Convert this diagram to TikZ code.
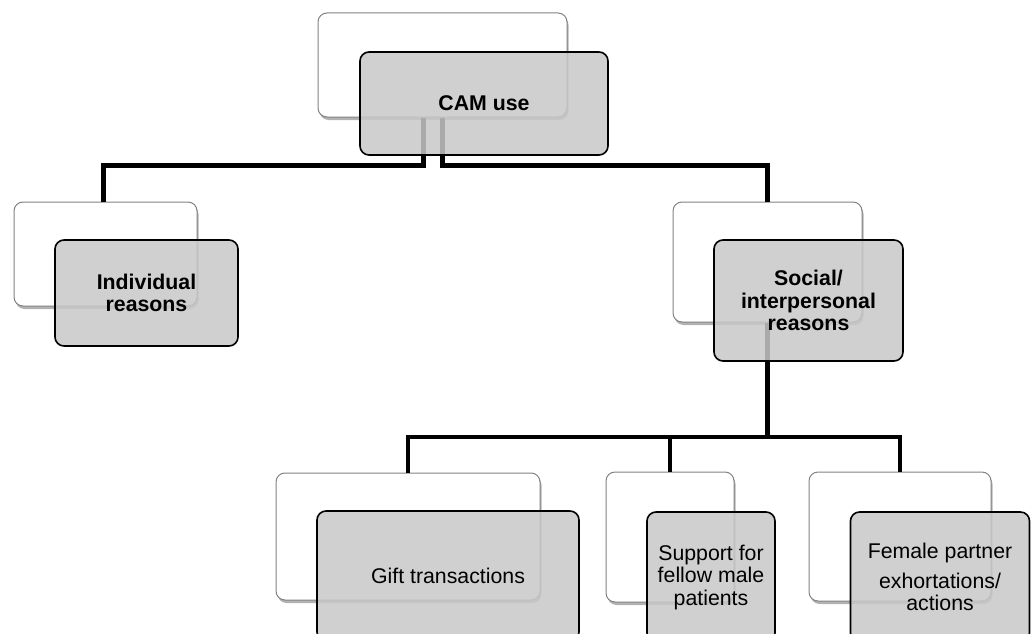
\documentclass[tikz,border=0pt]{standalone}
\usepackage{fontspec}
\setmainfont{Liberation Sans}
\usetikzlibrary{shadows}
\definecolor{frontfill}{RGB}{200,200,200}
\definecolor{backline}{RGB}{130,130,130}
\tikzset{
  backbox/.style={draw=backline, line width=1pt, fill=white, rounded corners=9pt,
    inner sep=0pt, drop shadow={shadow xshift=1.5pt, shadow yshift=-3pt, opacity=0.3, fill=black}},
  frontbox/.style={draw=black, line width=1.6pt, fill=frontfill, fill opacity=0.85, text opacity=1,
    rounded corners=9pt, inner sep=0pt, align=center, font=\fontsize{21.3}{22.5}\selectfont},
  boldbox/.style={frontbox, font=\fontsize{21.3}{22.5}\selectfont\bfseries},
  conn/.style={line width=4.2pt, line join=miter},
}
\begin{document}
\begin{tikzpicture}[x=1pt,y=-1pt]
\useasboundingbox (0,0) rectangle (1031,634);
% back boxes
\node[backbox, minimum width=249pt, minimum height=104pt] (camB) at (442.5,65) {};
\node[backbox, minimum width=183pt, minimum height=104pt] (indB) at (105.5,254) {};
\node[backbox, minimum width=189pt, minimum height=120pt] (socB) at (767.5,262) {};
\node[backbox, minimum width=264pt, minimum height=127pt] (giftB) at (408,536.5) {};
\node[backbox, minimum width=128pt, minimum height=130pt] (supB) at (670,537) {};
\node[backbox, minimum width=182pt, minimum height=129pt] (femB) at (900,536.5) {};
% connectors
\coordinate (bus) at (767.5,437);
\draw[conn] ([xshift=-19pt]camB.south) -- ++(0,48) -| ([xshift=-2pt]indB.north);
\draw[conn] (camB.south) -- ++(0,48) -| (socB.north);
\draw[conn] (socB.south) -- (bus);
\draw[conn] (giftB.north) |- (bus) -| (femB.north);
\draw[conn] (supB.north) -- (supB.north |- bus);
% front boxes
\node[boldbox, minimum width=248pt, minimum height=103pt] (camF) at (484,103.5) {CAM use};
\node[boldbox, minimum width=183pt, minimum height=106pt] (indF) at (146.5,293) {Individual\\reasons};
\node[boldbox, minimum width=189pt, minimum height=121pt] (socF) at (808.5,300.5) {Social/\\interpersonal\\reasons};
\node[frontbox, minimum width=262pt, minimum height=130pt] (giftF) at (448,576) {\raisebox{-6pt}{Gift transactions}};
\node[frontbox, minimum width=128pt, minimum height=130pt] (supF) at (711,577) {Support for\\fellow male\\patients};
\node[frontbox, minimum width=179pt, minimum height=130pt] (femF) at (940,577) {Female partner\\[7pt]exhortations/\\actions};
\end{tikzpicture}
\end{document}
